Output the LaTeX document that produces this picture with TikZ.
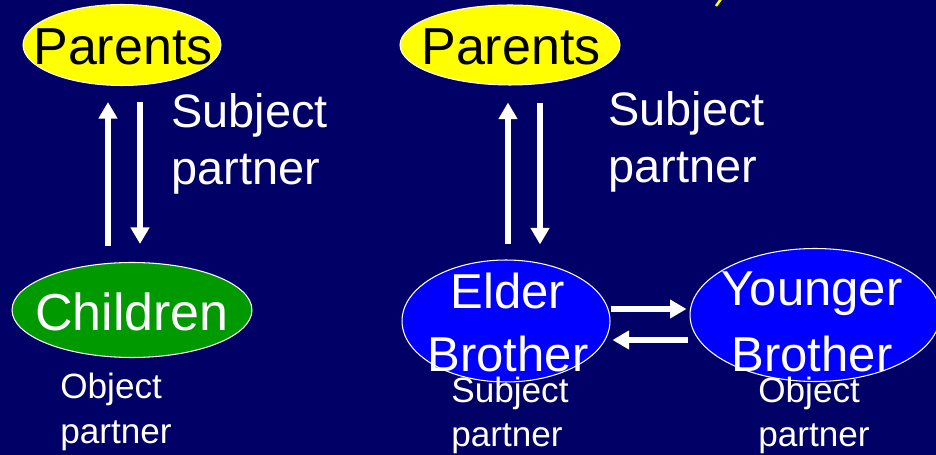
\documentclass[tikz,border=0pt]{standalone}
\usepackage{fontspec}
\setmainfont{Liberation Sans}
\usepackage{tikz}
\usepackage{xcolor}
\definecolor{slideBg}{HTML}{000066}
\definecolor{roleParent}{HTML}{FFFF00}
\definecolor{roleChild}{HTML}{009900}
\definecolor{roleBrother}{HTML}{0000FF}
\usetikzlibrary{shapes.geometric,arrows.meta,calc}

\begin{document}
\begin{tikzpicture}[x=0.02cm, y=-0.02cm,
    role/.style={ellipse, draw=white, line width=0.6pt, inner sep=0pt},
    arr/.style={white, line width=0.12cm, -{Triangle[width=0.36cm,length=0.33cm]}},
    bigtxt/.style={inner sep=0pt, font=\fontsize{29.6pt}{36pt}\selectfont},
    midtxt/.style={white, inner sep=0pt, align=left, font=\fontsize{26.7pt}{33pt}\selectfont},
    smalltxt/.style={white, inner sep=0pt, align=left, font=\fontsize{20pt}{25.3pt}\selectfont}]
  \clip (0,0) rectangle (936,455);
  \fill[slideBg] (0,0) rectangle (936,455);
  \draw[roleParent, line width=0.05cm] (721,-1) -- (716,6);
  % left family
  \node[role, fill=roleParent, minimum width=3.96cm, minimum height=1.62cm] (par1) at (122,45) {};
  \node[role, fill=roleChild, minimum width=4.8cm, minimum height=1.9cm] (kid) at (132,310) {};
  \node[bigtxt] (par1lbl) at (123,47) {Parents};
  \node[bigtxt, white] (kidlbl) at (132,312) {Children};
  \draw[arr] ($(kid.north)+(-24,-16)$) -- ($(par1.south)+(-14,16)$);
  \draw[arr] ($(par1.south)+(18,16)$) -- ($(kid.north)+(8,-18)$);
  \node[midtxt, anchor=base west] (subj1) at (171,185) {Subject\\partner};
  \node[smalltxt, anchor=base west] (obj1) at (60,443) {Object\\partner};
  % right family
  \node[role, fill=roleParent, minimum width=4.4cm, minimum height=1.6cm] (par2) at (510,45) {};
  \node[role, fill=roleBrother, minimum width=4.16cm, minimum height=2.44cm] (elder) at (506,321) {};
  \node[role, fill=roleBrother, minimum width=5cm, minimum height=2.66cm] (younger) at (815,315) {};
  \node[bigtxt] (par2lbl) at (511,47) {Parents};
  \node[white, inner sep=0pt, align=center, anchor=base,
        font=\fontsize{27.9pt}{36.4pt}\selectfont] (elderlbl) at (508,372) {Elder\\Brother};
  \node[white, inner sep=0pt, align=center, anchor=base,
        font=\fontsize{27.9pt}{38.1pt}\selectfont] (youngerlbl) at (812,372) {Younger\\Brother};
  \draw[arr] ($(elder.north)+(2,-15)$) -- ($(par2.south)+(-2,17)$);
  \draw[arr] ($(par2.south)+(30,17)$) -- ($(elder.north)+(34,-15)$);
  \coordinate (toYounger) at ($(elder.east)+(0,-12)$);
  \coordinate (toElder) at ($(younger.west)+(-2,25)$);
  \draw[arr, shorten >=0.06cm] (toYounger) -- (toYounger -| younger.west);
  \draw[arr, shorten >=0.04cm] (toElder) -- (toElder -| elder.east);
  \node[midtxt, anchor=base west] (subj2) at (608,183) {Subject\\partner};
  \node[smalltxt, anchor=base west] (subj3) at (451,447) {Subject\\partner};
  \node[smalltxt, anchor=base west] (obj2) at (758,447) {Object\\partner};
\end{tikzpicture}
\end{document}
